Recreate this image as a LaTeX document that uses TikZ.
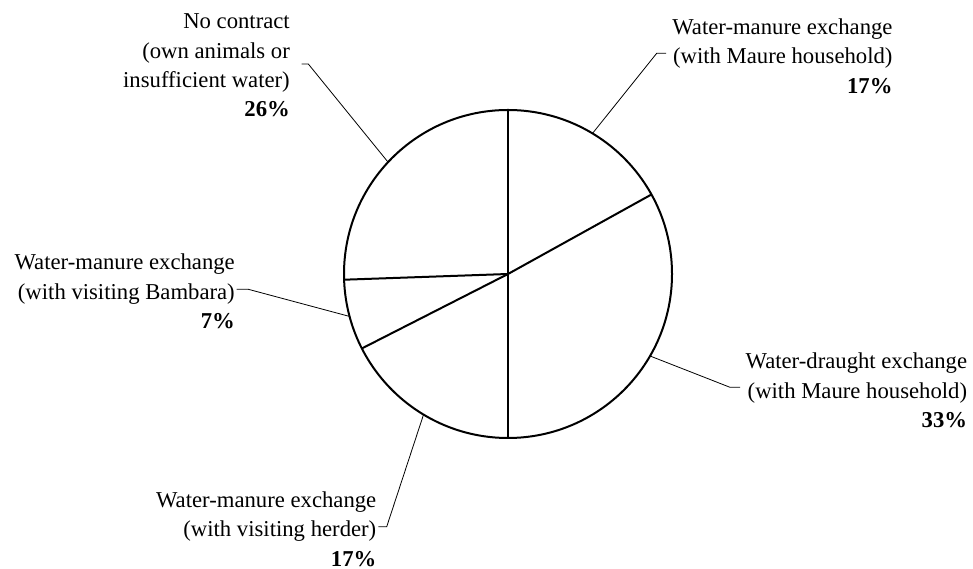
\documentclass[tikz,border=0pt]{standalone}
\usepackage{fontspec}
\setmainfont{Liberation Serif}
\begin{document}
\begin{tikzpicture}[x=1pt,y=1pt,
  lbl/.style={anchor=north east,inner sep=0pt,align=right,font=\fontsize{22.7}{29.3}\selectfont},
  slice/.style={line width=2pt},
  leader/.style={line width=0.8pt}]
\useasboundingbox (0,0) rectangle (973,569);
% pie
\node[draw,circle,line width=2pt,minimum size=328pt,inner sep=0pt,outer sep=0pt] (pie) at (508,295) {};
\draw[slice] (pie.center) -- (pie.90);
\draw[slice] (pie.center) -- (pie.29.6);
\draw[slice] (pie.center) -- (pie.270);
\draw[slice] (pie.center) -- (pie.207.4);
\draw[slice] (pie.center) -- (pie.182.7);
% labels
\node[lbl] (tr) at (892.7,550.5) {Water-manure exchange\\(with Maure household)\\\textbf{17\%}};
\node[lbl] (tl) at (290,555.2) {No contract\\(own animals or\\insufficient water)\\\textbf{26\%}};
\node[lbl] (lm) at (235,315.2) {Water-manure exchange\\(with visiting Bambara)\\\textbf{7\%}};
\node[lbl] (bl) at (376.5,77.5) {Water-manure exchange\\(with visiting herder)\\\textbf{17\%}};
\node[lbl] (br) at (967.3,216.2) {Water-draught exchange\\(with Maure household)\\\textbf{33\%}};
% leader points
\coordinate (trE) at (656.7,515.7); \coordinate (trT) at (666,515.7);
\coordinate (tlE) at (308.3,505);   \coordinate (tlT) at (301.7,505);
\coordinate (lmE) at (248.3,279.7); \coordinate (lmT) at (236.7,279.7);
\coordinate (blE) at (386.7,42.3);  \coordinate (blT) at (378.3,42.3);
\coordinate (brE) at (730,181.7);   \coordinate (brT) at (740,181.7);
\draw[leader] (pie.59.8) -- (trE) -- (trT);
\draw[leader] (pie.137) -- (tlE) -- (tlT);
\draw[leader] (pie.195.6) -- (lmE) -- (lmT);
\draw[leader] (pie.239.5) -- (blE) -- (blT);
\draw[leader] (pie.-30.2) -- (brE) -- (brT);
\end{tikzpicture}
\end{document}
